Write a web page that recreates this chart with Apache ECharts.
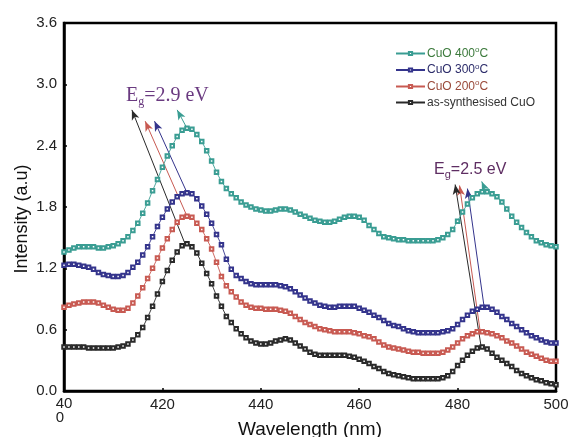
<!DOCTYPE html>
<html>
<head>
<meta charset="UTF-8">
<title>CuO absorption spectra</title>
<script src="https://cdn.jsdelivr.net/npm/echarts@6/dist/echarts.min.js"></script>
<style>
  html, body { margin: 0; padding: 0; background: #fff; }
  #main { width: 571px; height: 437px; }
</style>
</head>
<body>
<div id="main"></div>
<script>
// wavelengths 400..500 nm, one point per nm
var wavelength = [];
for (var w = 400; w <= 500; w++) wavelength.push(w);

var cuo400 = [
  1.36,1.38,1.40,1.41,1.41,1.41,1.41,1.40,1.40,1.41,
  1.42,1.44,1.47,1.51,1.57,1.64,1.74,1.84,1.96,2.07,
  2.19,2.30,2.40,2.49,2.55,2.57,2.56,2.51,2.44,2.35,
  2.25,2.14,2.05,1.98,1.93,1.89,1.85,1.82,1.80,1.78,
  1.77,1.76,1.76,1.77,1.78,1.78,1.77,1.75,1.73,1.71,
  1.69,1.67,1.66,1.65,1.65,1.66,1.68,1.70,1.71,1.71,
  1.70,1.67,1.62,1.58,1.54,1.51,1.50,1.49,1.48,1.48,
  1.47,1.47,1.47,1.47,1.47,1.47,1.48,1.50,1.53,1.58,
  1.66,1.75,1.83,1.89,1.93,1.95,1.95,1.93,1.90,1.85,
  1.78,1.71,1.65,1.60,1.55,1.51,1.47,1.45,1.43,1.42,
  1.41
];
var cuo300 = [
  1.23,1.24,1.24,1.23,1.22,1.21,1.19,1.16,1.14,1.13,
  1.12,1.12,1.13,1.16,1.21,1.26,1.33,1.41,1.51,1.61,
  1.70,1.78,1.85,1.90,1.93,1.94,1.93,1.88,1.81,1.73,
  1.64,1.53,1.43,1.29,1.19,1.13,1.10,1.07,1.05,1.04,
  1.04,1.04,1.04,1.04,1.03,1.02,1.00,0.97,0.94,0.91,
  0.88,0.86,0.84,0.83,0.82,0.82,0.83,0.83,0.83,0.83,
  0.81,0.79,0.77,0.74,0.72,0.69,0.66,0.64,0.63,0.61,
  0.59,0.58,0.57,0.57,0.57,0.57,0.57,0.58,0.59,0.61,
  0.65,0.70,0.74,0.78,0.80,0.82,0.82,0.80,0.77,0.73,
  0.70,0.66,0.63,0.60,0.57,0.54,0.52,0.50,0.48,0.47,
  0.47
];
var cuo200 = [
  0.82,0.84,0.85,0.86,0.87,0.87,0.87,0.86,0.84,0.82,
  0.80,0.79,0.79,0.81,0.86,0.93,1.01,1.10,1.20,1.30,
  1.40,1.49,1.58,1.65,1.70,1.71,1.70,1.64,1.58,1.49,
  1.39,1.26,1.12,1.03,0.97,0.92,0.87,0.84,0.82,0.81,
  0.81,0.80,0.80,0.80,0.79,0.78,0.76,0.73,0.70,0.67,
  0.65,0.63,0.61,0.60,0.59,0.58,0.58,0.58,0.58,0.57,
  0.56,0.54,0.53,0.51,0.48,0.45,0.43,0.42,0.41,0.40,
  0.39,0.38,0.38,0.37,0.37,0.37,0.37,0.38,0.40,0.43,
  0.47,0.51,0.54,0.56,0.58,0.58,0.57,0.56,0.54,0.52,
  0.49,0.47,0.44,0.41,0.38,0.36,0.34,0.32,0.30,0.29,
  0.29
];
var asSynth = [
  0.43,0.43,0.43,0.43,0.43,0.42,0.42,0.42,0.42,0.42,
  0.42,0.43,0.44,0.46,0.50,0.55,0.62,0.72,0.83,0.95,
  1.07,1.18,1.28,1.36,1.42,1.44,1.41,1.35,1.25,1.15,
  1.05,0.93,0.83,0.73,0.67,0.61,0.56,0.52,0.49,0.47,
  0.46,0.46,0.47,0.49,0.50,0.51,0.50,0.47,0.44,0.41,
  0.38,0.36,0.35,0.35,0.35,0.35,0.35,0.35,0.34,0.33,
  0.31,0.29,0.27,0.24,0.22,0.19,0.17,0.16,0.15,0.14,
  0.13,0.12,0.12,0.12,0.12,0.12,0.12,0.13,0.15,0.19,
  0.25,0.30,0.35,0.39,0.42,0.43,0.41,0.37,0.33,0.30,
  0.27,0.24,0.20,0.17,0.15,0.13,0.11,0.10,0.08,0.07,
  0.06
];

// band gap arrows: [tail, head] in data coordinates
var arrows400 = [[[425, 2.57], [423, 2.75]], [[485.7, 1.96], [484.9, 2.05]]];
var arrows300 = [[[425, 1.94], [418.4, 2.64]], [[485.4, 0.82], [482.0, 1.98]]];
var arrows200 = [[[425, 1.71], [416.5, 2.64]], [[484.6, 0.58], [480.4, 2.01]]];
var arrowsAs  = [[[424.6, 1.44], [413.8, 2.75]], [[484.8, 0.43], [479.5, 2.02]]];

var xTicks = [400, 420, 440, 460, 480, 500];
var yTicks = [0.0, 0.6, 1.2, 1.8, 2.4, 3.0, 3.6];

var names = ['CuO 400', 'CuO 300', 'CuO 200', 'as-synthesised CuO'];
var colors = ['#3a9d93', '#34348c', '#c85a52', '#2a2a2a'];
var textColors = ['#3c7a3c', '#2c2c6a', '#9a4a3a', '#333333'];

function pairs(ys) {
  return ys.map(function (v, i) { return [wavelength[i], v]; });
}

function arrowData(list) {
  return list.map(function (a) {
    return [{ coord: a[0] }, { coord: a[1] }];
  });
}

function makeSeries(i, ys, arr) {
  return {
    name: names[i],
    type: 'line',
    data: pairs(ys),
    symbol: 'emptyRect',
    symbolSize: 3.5,
    showAllSymbol: true,
    lineStyle: { color: colors[i], width: 0.9 },
    itemStyle: { color: colors[i], borderWidth: 0.7 },
    markLine: {
      silent: true,
      symbol: ['none', 'arrow'],
      symbolSize: [6, 10],
      lineStyle: { color: colors[i], width: 1, type: 'solid' },
      label: { show: false },
      emphasis: { disabled: true },
      data: arrowData(arr)
    },
    z: 10 - i
  };
}

var myChart = echarts.init(document.getElementById('main'));

myChart.setOption({
  animation: false,
  backgroundColor: '#fff',
  grid: {
    left: 64, right: 15, top: 23, bottom: 46,
    outerBoundsMode: 'none',
    containLabel: false,
    show: true, borderColor: '#000', borderWidth: 2.5
  },
  legend: {
    orient: 'vertical',
    left: 390, top: 41,
    itemWidth: 29, itemHeight: 4, itemGap: 2,
    data: names.map(function (n, i) {
      return { name: n, textStyle: { color: textColors[i] } };
    }),
    formatter: function (n) {
      if (n.indexOf('CuO ') === 0) return n + '{s|o}C';
      return n;
    },
    textStyle: {
      fontFamily: 'Liberation Sans, Arial, sans-serif',
      fontSize: 12,
      lineHeight: 14,
      padding: [0, 0, 0, -3],
      rich: { s: { fontSize: 8, padding: [0, 0, 7, 0] } }
    }
  },
  xAxis: {
    type: 'value',
    min: xTicks[0], max: xTicks[xTicks.length - 1], interval: 20,
    name: 'Wavelength (nm)',
    nameLocation: 'middle',
    nameGap: 29,
    nameMoveOverlap: false,
    nameTextStyle: { fontFamily: 'Liberation Sans, Arial, sans-serif', fontSize: 19, color: '#111' },
    axisLine: { lineStyle: { color: '#000', width: 2.5 } },
    axisTick: { inside: true, length: 3, lineStyle: { color: '#000', width: 1.5 } },
    axisLabel: {
      fontFamily: 'Liberation Sans, Arial, sans-serif', fontSize: 15, color: '#222', margin: 6,
      formatter: function (v) { return v === 400 ? '{z|40}\n{z|0}' : String(v); },
      rich: { z: { fontSize: 15, lineHeight: 14, align: 'left', color: '#222' } }
    },
    splitLine: { show: false }
  },
  yAxis: {
    type: 'value',
    min: yTicks[0], max: yTicks[yTicks.length - 1], interval: 0.6,
    name: 'Intensity (a.u)',
    nameLocation: 'middle',
    nameGap: 33,
    nameMoveOverlap: false,
    nameTextStyle: {
      fontFamily: 'Liberation Sans, Arial, sans-serif', fontSize: 18, color: '#111',
      padding: [0, 24, 0, 0]
    },
    axisLine: { lineStyle: { color: '#000', width: 2.5 } },
    axisTick: { inside: true, length: 3, lineStyle: { color: '#000', width: 1.5 } },
    axisLabel: {
      fontFamily: 'Liberation Sans, Arial, sans-serif', fontSize: 15, color: '#222', margin: 7,
      formatter: function (v) { return v.toFixed(1); }
    },
    splitLine: { show: false }
  },
  graphic: [
    {
      type: 'text', left: 126, top: 86, z: 100,
      style: {
        text: '{a|E}{b|g}{a|=2.9 eV}',
        rich: {
          a: { fontFamily: 'Liberation Serif, Times New Roman, serif', fontSize: 20, fill: '#6a3a80' },
          b: { fontFamily: 'Liberation Serif, Times New Roman, serif', fontSize: 12, fill: '#6a3a80', padding: [12, 0, 0, 0] }
        }
      }
    },
    {
      type: 'text', left: 434, top: 162, z: 100,
      style: {
        text: '{a|E}{b|g}{a|=2.5 eV}',
        rich: {
          a: { fontFamily: 'Liberation Sans, Arial, sans-serif', fontSize: 16, fill: '#5e2d62' },
          b: { fontFamily: 'Liberation Sans, Arial, sans-serif', fontSize: 11, fill: '#5e2d62', padding: [10, 0, 0, 0] }
        }
      }
    }
  ],
  series: [
    makeSeries(0, cuo400, arrows400),
    makeSeries(1, cuo300, arrows300),
    makeSeries(2, cuo200, arrows200),
    makeSeries(3, asSynth, arrowsAs)
  ]
});
</script>
</body>
</html>
